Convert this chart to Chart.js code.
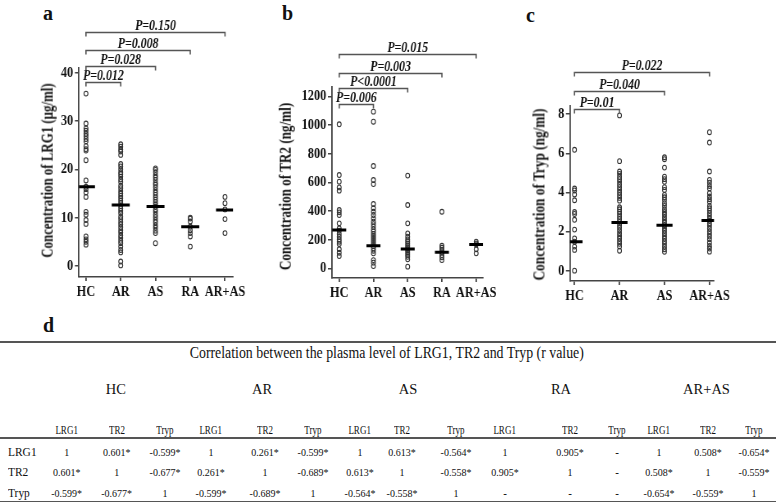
<!DOCTYPE html>
<html>
<head>
<meta charset="utf-8">
<script src="https://cdn.jsdelivr.net/npm/chart.js@4.4.1/dist/chart.umd.min.js"></script>
<style>
  html, body { margin: 0; padding: 0; background: #fff; }
  body { width: 776px; height: 502px; position: relative; overflow: hidden; font-family: "Liberation Serif", serif; color: #111; }
  .wrap { position: absolute; top: 0; transform-origin: 0 0; }
  canvas { display: block; }
  .panel-letter { position: absolute; font-weight: bold; font-size: 20px; line-height: 20px; }
  .ytitle { position: absolute; white-space: nowrap; font-weight: bold; font-size: 17px; line-height: 17px; }
  .t { position: absolute; width: 120px; text-align: center; line-height: 16px; height: 16px; white-space: nowrap; }
  .t span { display: inline-block; }
  .rule { position: absolute; left: 0; width: 776px; height: 1.5px; background: #555; }
</style>
</head>
<body>
<div class="panel-letter" style="left:43px;top:3px">a</div>
<div class="panel-letter" style="left:282px;top:3px">b</div>
<div class="panel-letter" style="left:526px;top:5px">c</div>
<div class="panel-letter" style="left:43px;top:315px">d</div>

<div class="wrap" id="wrapA" style="left:0"><canvas id="chartA"></canvas></div>
<div class="wrap" id="wrapB" style="left:250px"><canvas id="chartB"></canvas></div>
<div class="wrap" id="wrapC" style="left:512px"><canvas id="chartC"></canvas></div>
<div id="table"></div>

<script>
// --- DATA ---
const groupsAll = ['HC', 'AR', 'AS', 'RA', 'AR+AS'];
const groupsTryp = ['HC', 'AR', 'AS', 'AR+AS'];

// panel a: LRG1 (µg/ml)
const hcLrg1 = [35.7, 29.5, 28.5, 28.0, 27.4, 26.9, 26.3, 25.8, 24.8, 24.2, 23.9, 21.9, 17.7, 16.4, 15.9, 15.2, 14.3, 11.2, 10.6, 9.5, 8.7, 6.1, 5.5, 5.0, 4.4];
const arLrg1 = [25.2, 24.7, 24.1, 23.7, 23.0, 21.1, 20.6, 20.0, 19.4, 19.0, 18.5, 17.9, 17.4, 16.6, 16.1, 15.5, 15.0, 14.5, 14.0, 13.5, 13.0, 12.4, 11.9, 11.4, 10.9, 10.2, 9.7, 9.1, 8.6, 8.0, 7.4, 6.9, 6.3, 5.8, 5.2, 4.7, 4.0, 3.3, 2.8, 0.9, 0.1];
const asLrg1 = [20.2, 19.9, 19.4, 18.8, 18.3, 17.8, 17.2, 16.8, 16.3, 15.7, 15.2, 14.7, 14.2, 13.7, 13.2, 12.7, 12.3, 11.7, 11.2, 10.6, 10.1, 9.5, 9.0, 8.4, 7.9, 7.3, 6.8, 4.7];
const raLrg1 = [10.0, 9.8, 9.2, 8.1, 7.4, 6.8, 6.1, 4.0];
const arasLrg1 = [14.3, 13.0, 11.7, 9.7, 6.8];
const medianLrg1 = [16.4, 12.6, 12.3, 8.1, 11.6];
const ticksLrg1 = [0, 10, 20, 30, 40];
const pLrg1 = [[0, 1, 'P=0.012'], [0, 2, 'P=0.028'], [0, 3, 'P=0.008'], [0, 4, 'P=0.150']];

// panel b: TR2 (ng/ml)
const hcTr2 = [1005, 651, 605, 565, 542, 407, 391, 372, 314, 279, 263, 240, 221, 202, 186, 170, 133, 109, 86];
const arTr2 = [1093, 1023, 714, 616, 588, 449, 419, 395, 372, 349, 326, 309, 291, 272, 256, 240, 226, 212, 198, 184, 170, 156, 140, 123, 105, 58, 40, 16];
const asTr2 = [647, 442, 314, 244, 221, 202, 188, 174, 160, 147, 135, 123, 109, 95, 81, 63, 12];
const raTr2 = [395, 158, 144, 128, 112, 93, 77, 58];
const arasTr2 = [186, 174, 167, 133, 105];
const medianTr2 = [267, 158, 135, 112, 167];
const ticksTr2 = [0, 200, 400, 600, 800, 1000, 1200];
const pTr2 = [[0, 1, 'P=0.006'], [0, 2, 'P<0.0001'], [0, 3, 'P=0.003'], [0, 4, 'P=0.015']];

// panel c: Tryp (ng/ml)
const hcTryp = [6.18, 4.2, 4.1, 3.9, 3.6, 3.0, 2.9, 2.6, 2.1, 1.65, 1.48, 1.23, 1.06, 0.0];
const arTryp = [7.94, 5.6, 5.07, 4.95, 4.8, 4.68, 4.54, 4.4, 4.27, 4.13, 3.99, 3.86, 3.72, 3.58, 3.24, 3.14, 3.02, 2.9, 2.76, 2.63, 2.49, 2.34, 2.2, 2.06, 1.91, 1.77, 1.64, 1.5, 1.37, 1.23, 1.02];
const asTryp = [5.8, 5.7, 5.27, 4.81, 4.68, 4.54, 4.27, 4.13, 3.87, 3.75, 3.62, 3.45, 3.31, 3.14, 3.0, 2.87, 2.73, 2.59, 2.46, 2.32, 2.18, 2.05, 1.91, 1.77, 1.64, 1.5, 1.37, 1.23, 1.09, 0.96];
const arasTryp = [7.08, 6.55, 5.07, 4.64, 4.5, 4.33, 4.2, 3.96, 3.79, 3.65, 3.52, 3.31, 3.19, 3.07, 2.94, 2.8, 2.66, 2.56, 2.42, 2.29, 2.15, 2.01, 1.88, 1.74, 1.6, 1.43, 1.26, 1.13, 0.97];
const medianTryp = [1.48, 2.46, 2.32, 2.56];
const ticksTryp = [0, 2, 4, 6, 8];
const pTryp = [[0, 1, 'P=0.01'], [0, 2, 'P=0.040'], [0, 3, 'P=0.022']];

// panel d: correlation r values (null = not available, * = significant)
const markers = ['LRG1', 'TR2', 'Tryp'];
const rHC = [[1, 0.601, -0.599], [0.601, 1, -0.677], [-0.599, -0.677, 1]];
const rAR = [[1, 0.261, -0.599], [0.261, 1, -0.689], [-0.599, -0.689, 1]];
const rAS = [[1, 0.613, -0.564], [0.613, 1, -0.558], [-0.564, -0.558, 1]];
const rRA = [[1, 0.905, null], [0.905, 1, null], [null, null, null]];
const rARAS = [[1, 0.508, -0.654], [0.508, 1, -0.559], [-0.654, -0.559, 1]];
const tableTitle = 'Correlation between the plasma level of LRG1, TR2 and Tryp (r value)';

// --- CHARTS ---
const SERIF = '"Liberation Serif", "Times New Roman", serif';
const INK = '#111';
const AXIS = '#444';
const SQ = 0.82; // the figure's text is horizontally condensed, so each canvas is squeezed along x

const bracketPlugin = {
  id: 'brackets',
  afterDraw(chart, args, o) {
    const { ctx, scales: { x, y } } = chart;
    ctx.save();
    ctx.strokeStyle = '#555';
    ctx.lineWidth = 1.6;
    ctx.fillStyle = INK;
    ctx.font = 'italic bold 14.5px ' + SERIF;
    ctx.textAlign = 'center';
    o.items.forEach((b, k) => {
      const x0 = x.getPixelForValue(b[0]);
      const x1 = x.getPixelForValue(b[1]);
      const yy = Math.round(y.getPixelForValue(o.levels[k])) + 0.5;
      ctx.beginPath();
      ctx.moveTo(x0, yy + 4);
      ctx.lineTo(x0, yy);
      ctx.lineTo(x1, yy);
      ctx.lineTo(x1, yy + 4);
      ctx.stroke();
      ctx.fillText(b[2], (x0 + x1) / 2, yy - 2.5);
    });
    ctx.restore();
  }
};

function yTitle(text, cx, cy, len) {
  const d = document.createElement('div');
  d.className = 'ytitle';
  d.textContent = text;
  document.body.appendChild(d);
  const w = d.offsetWidth, h = d.offsetHeight;
  d.style.left = (cx - w / 2) + 'px';
  d.style.top = (cy - h / 2) + 'px';
  d.style.transform = 'rotate(-90deg) scaleX(' + (len / w).toFixed(3) + ')';
}

// g: display geometry of the canvas and its plot area, in page pixels
function makePanel(id, cats, series, medians, ticks, cfg) {
  const g = cfg.geom;
  const canvas = document.getElementById(id);
  const W = Math.round(g.w / SQ);
  canvas.width = W;
  canvas.height = 300;
  canvas.parentNode.style.transform = 'scaleX(' + SQ + ')';
  const plotL = g.plotL / SQ, plotR = g.plotR / SQ;

  const points = series.flatMap((vals, i) => vals.map(v => ({ x: i, y: v })));
  const meds = medians.map((m, i) => ({ x: i, y: m }));
  const tickFont = { family: SERIF, weight: 'bold', size: 15 };
  return new Chart(canvas, {
    type: 'scatter',
    data: {
      datasets: [
        { data: meds, pointStyle: 'line', pointRadius: cfg.medW / SQ, borderColor: '#000', pointBorderWidth: 3 },
        { data: points, pointStyle: 'circle', pointRadius: 2.4, pointBorderWidth: 1.1, borderColor: '#333', backgroundColor: 'rgba(0,0,0,0)' }
      ]
    },
    options: {
      responsive: false,
      animation: false,
      events: [],
      layout: { padding: { left: 0, top: g.plotT, right: W - plotR, bottom: 0 } },
      plugins: {
        legend: { display: false },
        tooltip: { enabled: false },
        brackets: { items: cfg.pvals, levels: cfg.levels }
      },
      scales: {
        x: {
          type: 'linear',
          min: cfg.xmin, max: cfg.xmax,
          afterBuildTicks: s => { s.ticks = cats.map((c, i) => ({ value: i })); },
          afterFit: s => { s.height = 300 - g.plotB; },
          grid: { drawOnChartArea: false, tickLength: 4, color: AXIS, lineWidth: 1.8 },
          border: { color: AXIS, width: 1.5 },
          ticks: { autoSkip: false, maxRotation: 0, padding: 2, color: INK, font: tickFont, callback: v => cats[v] }
        },
        y: {
          min: cfg.ymin, max: cfg.ymax,
          afterBuildTicks: s => { s.ticks = ticks.map(v => ({ value: v })); },
          afterFit: s => { s.width = plotL; },
          grid: { drawOnChartArea: false, tickLength: 5, color: AXIS, lineWidth: 1.5 },
          border: { color: AXIS, width: 1.8 },
          ticks: { padding: 2, color: INK, font: tickFont, callback: v => String(v) }
        }
      }
    },
    plugins: [bracketPlugin]
  });
}

makePanel('chartA', groupsAll, [hcLrg1, arLrg1, asLrg1, raLrg1, arasLrg1], medianLrg1, ticksLrg1, {
  pvals: pLrg1, levels: [38.2, 41.5, 44.8, 48.5],
  xmin: -0.2, xmax: 4.23, ymin: -2.3, ymax: 41, medW: 9,
  geom: { w: 250, plotL: 79, plotR: 233, plotT: 68, plotB: 277 }
});
makePanel('chartB', groupsAll, [hcTr2, arTr2, asTr2, raTr2, arasTr2], medianTr2, ticksTr2, {
  pvals: pTr2, levels: [1144, 1256, 1360, 1492],
  xmin: -0.21, xmax: 4.2, ymin: -67, ymax: 1265, medW: 7,
  geom: { w: 262, plotL: 82, plotR: 233, plotT: 87, plotB: 278 }
});
makePanel('chartC', groupsTryp, [hcTryp, arTryp, asTryp, arasTryp], medianTryp, ticksTryp, {
  pvals: pTryp, levels: [8.27, 9.21, 10.18],
  xmin: -0.1, xmax: 3.1, ymin: -0.53, ymax: 8.42, medW: 8,
  geom: { w: 264, plotL: 58, plotR: 202, plotT: 106, plotB: 281 }
});

yTitle('Concentration of LRG1 (µg/ml)', 47, 170, 174);
yTitle('Concentration of TR2 (ng/ml)', 285, 186, 167);
yTitle('Concentration of Tryp (ng/ml)', 539, 194, 172);

// --- TABLE (panel d) ---
const colX = [66.7, 116.7, 165, 211, 265, 313, 360, 402, 456, 505, 570, 617, 659, 708, 754];
const rowY = [450.7, 470.7, 491.7];
const tbl = document.getElementById('table');

function put(text, cx, cy, style) {
  const d = document.createElement('div');
  d.className = 't';
  d.style.left = (cx - 60) + 'px';
  d.style.top = (cy - 8) + 'px';
  d.innerHTML = '<span style="' + (style || '') + '">' + text + '</span>';
  tbl.appendChild(d);
  return d;
}
function rule(y) {
  const d = document.createElement('div');
  d.className = 'rule';
  d.style.top = y + 'px';
  tbl.appendChild(d);
}
const fmt = v => v === null ? '-' : (v === 1 ? '1' : v.toFixed(3) + '*');

rule(341);
rule(437);
rule(500.5);
const title = put(tableTitle, 387, 353.3, 'font-size:16px;transform:scaleX(0.865)');
title.style.width = '600px';
title.style.left = (387 - 300) + 'px';

const rGroups = [rHC, rAR, rAS, rRA, rARAS];
groupsAll.forEach((g, gi) => {
  const cx = (colX[gi * 3] + colX[gi * 3 + 2]) / 2;
  put(g, cx, 389.3, 'font-size:14.5px');
  markers.forEach((m, mi) => {
    put(m, colX[gi * 3 + mi], 429.3, 'font-size:12.5px;transform:scaleX(0.72)');
  });
  rGroups[gi].forEach((row, ri) => {
    row.forEach((v, ci) => {
      put(fmt(v), colX[gi * 3 + ci], rowY[ri], v === null ? 'font-size:11px;font-weight:bold' : 'font-size:10px');
    });
  });
});
markers.forEach((m, ri) => {
  const d = put(m, 0, rowY[ri], 'font-size:13px;transform:scaleX(0.88);transform-origin:left');
  d.style.left = '8px';
  d.style.textAlign = 'left';
});
</script>
</body>
</html>
